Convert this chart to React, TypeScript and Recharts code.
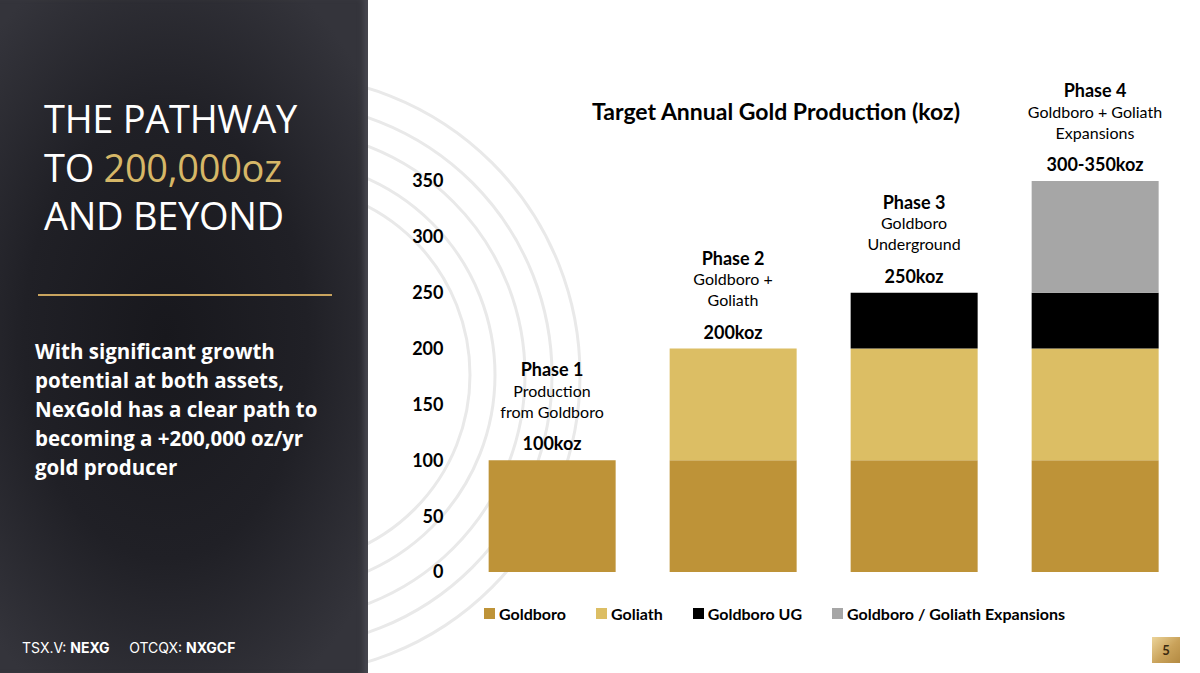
import React from 'react';
import { ComposedChart, Bar, Line, XAxis, YAxis, Legend, LabelList } from 'recharts';

const phases = ['Phase 1', 'Phase 2', 'Phase 3', 'Phase 4'];
const descLine1 = ['Production', 'Goldboro +', 'Goldboro', 'Goldboro + Goliath'];
const descLine2 = ['from Goldboro', 'Goliath', 'Underground', 'Expansions'];
const totals = ['100koz', '200koz', '250koz', '300-350koz'];

const goldboro = [100, 100, 100, 100];
const goliath = [0, 100, 100, 100];
const goldboroUG = [0, 0, 50, 50];
const expansions = [0, 0, 0, 100];

const yTicks = [0, 50, 100, 150, 200, 250, 300, 350];

const seriesKeys = ['goldboro', 'goliath', 'goldboroUG', 'expansions'];
const seriesNames = ['Goldboro', 'Goliath', 'Goldboro UG', 'Goldboro / Goliath Expansions'];
const seriesColors = ['#BE9338', '#DCBE64', '#000000', '#A6A6A6'];

const data = phases.map((p, i) => ({
  phase: p,
  goldboro: goldboro[i],
  goliath: goliath[i],
  goldboroUG: goldboroUG[i],
  expansions: expansions[i],
  stackTop: goldboro[i] + goliath[i] + goldboroUG[i] + expansions[i],
}));

const chartFont = 'Lato, "DejaVu Sans", sans-serif';

const PhaseLabel = (props: any) => {
  const { x, y, index } = props;
  const cx = Number(x);
  const top = Number(y);
  return (
    <g fontFamily={chartFont} textAnchor="middle" fill="#000">
      <text x={cx} y={top - 91} dominantBaseline="central" fontSize={18} fontWeight={700}>
        {phases[index]}
      </text>
      <text x={cx} y={top - 70} dominantBaseline="central" fontSize={16}>
        {descLine1[index]}
      </text>
      <text x={cx} y={top - 49} dominantBaseline="central" fontSize={16}>
        {descLine2[index]}
      </text>
      <text x={cx} y={top - 17} dominantBaseline="central" fontSize={18} fontWeight={700}>
        {totals[index]}
      </text>
    </g>
  );
};

const LegendContent = () => (
  <div style={{ display: 'flex', alignItems: 'center', fontFamily: chartFont, fontWeight: 700, fontSize: 16, color: '#000', height: 22 }}>
    {seriesNames.map((n, i) => (
      <div key={n} style={{ display: 'flex', alignItems: 'center', marginRight: 30 }}>
        <span style={{ display: 'inline-block', width: 11, height: 11, background: seriesColors[i], marginRight: 4 }} />
        <span>{n}</span>
      </div>
    ))}
  </div>
);

const arcRadii = [190, 215, 245, 272, 300];

export default function App() {
  return (
    <div style={{ position: 'fixed', left: 0, top: 0, width: 1200, height: 673, background: '#fff', overflow: 'hidden' }}>
      <svg width={1200} height={673} style={{ position: 'absolute', left: 0, top: 0 }}>
        {arcRadii.map((r) => (
          <circle key={r} cx={280} cy={375} r={r} fill="none" stroke="#e9e9e9" strokeWidth={3} />
        ))}
      </svg>

      <div
        style={{
          position: 'absolute',
          left: 0,
          top: 0,
          width: 368,
          height: 673,
          background: 'radial-gradient(ellipse 70% 60% at 45% 50%, #18181d 0%, #202026 55%, #34343b 100%)',
          boxShadow: 'inset -8px 0 6px -4px #4a4a52',
        }}
      >
        <div style={{ position: 'absolute', left: 44, top: 94, fontFamily: '"Open Sans", sans-serif', fontSize: 38, lineHeight: '48.5px', color: '#fff', letterSpacing: -0.3 }}>
          <div>THE PATHWAY</div>
          <div>
            TO <span style={{ color: '#D6B767' }}>200,000oz</span>
          </div>
          <div>AND BEYOND</div>
        </div>
        <div style={{ position: 'absolute', left: 38, top: 294, width: 294, height: 2, background: '#C9A45E' }} />
        <div style={{ position: 'absolute', left: 35, top: 337, width: 300, fontFamily: '"Open Sans", sans-serif', fontWeight: 700, fontSize: 20.5, lineHeight: '29px', color: '#fff' }}>
          With significant growth potential at both assets, NexGold has a clear path to becoming a +200,000 oz/yr gold producer
        </div>
        <div style={{ position: 'absolute', left: 22, top: 639, fontFamily: 'Inter, sans-serif', fontSize: 14, color: '#fff', whiteSpace: 'pre' }}>
          TSX.V: <b>NEXG</b>{'     '}OTCQX: <b>NXGCF</b>
        </div>
      </div>

      <div style={{ position: 'absolute', left: 776, top: 111, transform: 'translate(-50%, -50%)', fontFamily: chartFont, fontWeight: 700, fontSize: 23, color: '#000', whiteSpace: 'nowrap' }}>
        Target Annual Gold Production (koz)
      </div>

      <div style={{ position: 'absolute', left: 368, top: 0 }}>
        <ComposedChart width={832} height={673} data={data} margin={{ top: 181, right: 14.5, left: 0, bottom: 79 }} barCategoryGap="15%">
          <XAxis dataKey="phase" hide />
          <YAxis
            domain={[0, 350]}
            ticks={yTicks}
            axisLine={false}
            tickLine={false}
            width={93.5}
            tickMargin={12}
            tick={{ fontFamily: chartFont, fontWeight: 700, fontSize: 18, fill: '#000' }}
            interval={0}
          />
          <Legend
            verticalAlign="bottom"
            align="left"
            content={<LegendContent />}
            wrapperStyle={{ bottom: 49, left: 116, width: 'auto' }}
          />
          {seriesKeys.map((k, i) => (
            <Bar key={k} dataKey={k} name={seriesNames[i]} stackId="a" fill={seriesColors[i]} isAnimationActive={false} />
          ))}
          <Line
            dataKey="stackTop"
            stroke="none"
            dot={false}
            activeDot={false}
            legendType="none"
            isAnimationActive={false}
          >
            <LabelList dataKey="stackTop" content={<PhaseLabel />} />
          </Line>
        </ComposedChart>
      </div>

      <div
        style={{
          position: 'absolute',
          left: 1152,
          top: 637,
          width: 28,
          height: 26,
          background: 'linear-gradient(135deg, #ecd49a 0%, #c9a25a 55%, #b38a42 100%)',
          display: 'flex',
          alignItems: 'center',
          justifyContent: 'center',
          fontFamily: chartFont,
          fontWeight: 700,
          fontSize: 13,
          color: '#3a2a10',
        }}
      >
        5
      </div>
    </div>
  );
}
